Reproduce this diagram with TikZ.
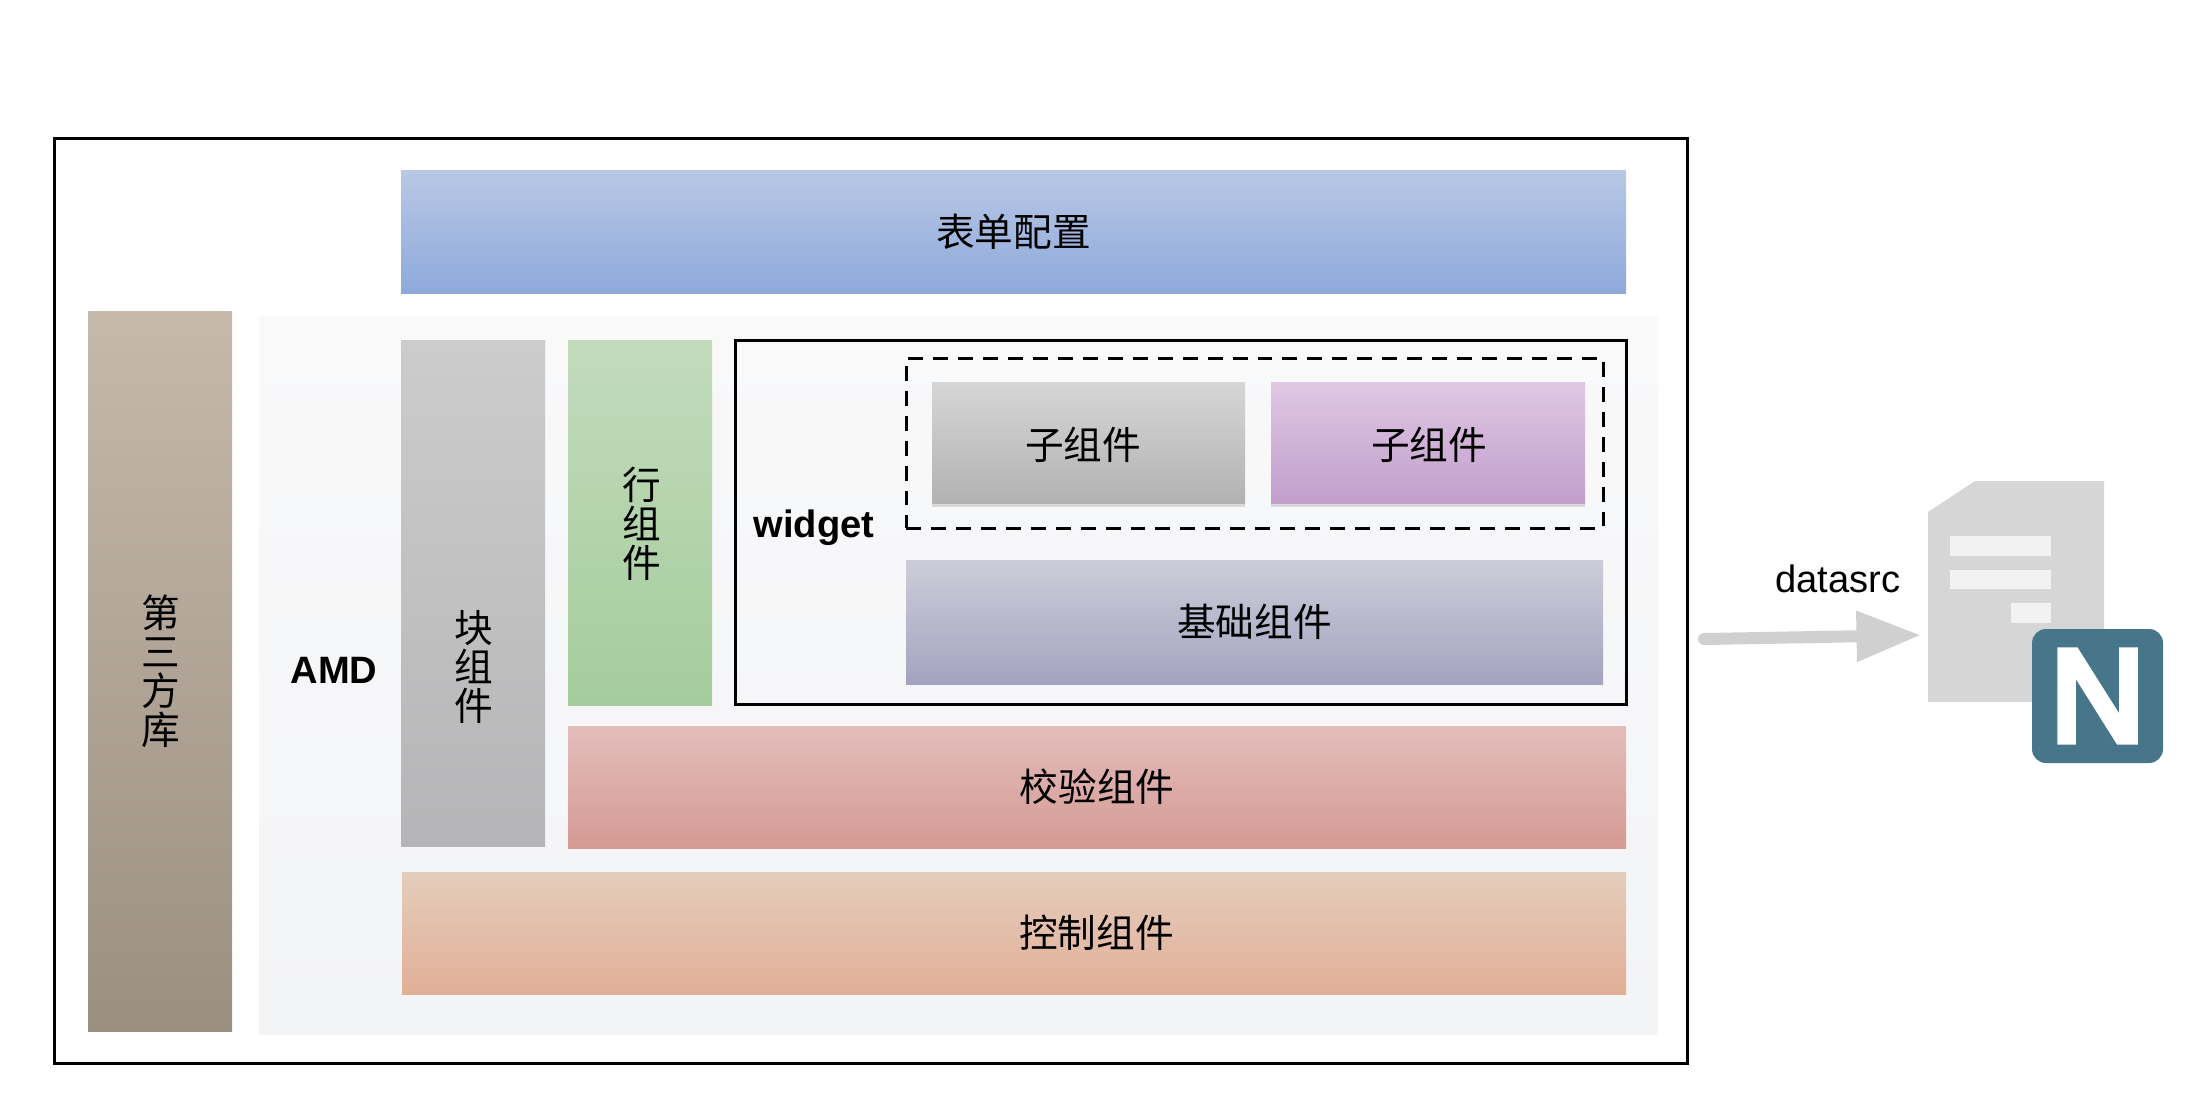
\documentclass[tikz,border=0pt]{standalone}
\usepackage{fontspec}
\setmainfont{Liberation Sans}
\newfontfamily\cjk{Noto Sans CJK SC}
\newfontfamily\logofont[FakeBold=6]{Liberation Sans}
\usetikzlibrary{arrows.meta}
\usetikzlibrary{shadows}
\tikzset{wh/.style 2 args={minimum width=#1*0.02cm, minimum height=#2*0.02cm}}
\tikzstyle{block} = [rectangle, inner sep=0pt, align=center, font=\cjk\fontsize{22}{22.2}\selectfont]
\tikzstyle{tag} = [inner sep=0pt, align=center, font=\cjk\fontsize{22}{22.2}\selectfont]
\tikzstyle{latin} = [inner sep=0pt, font=\fontsize{21.7}{24}\selectfont]
\tikzstyle{framebox} = [draw=black, rectangle, line width=0.06cm, inner sep=0pt]
\tikzstyle{softshadow} = [drop shadow={shadow xshift=0pt, shadow yshift=-2pt, opacity=0.25}]
\tikzstyle{sheetbar} = [rectangle, fill=sheetlight, inner sep=0pt]
\definecolor{sheet}{HTML}{D6D6D6}
\definecolor{sheetlight}{HTML}{F2F2F2}
\definecolor{flowgray}{HTML}{D0D0D0}
\definecolor{nginxblue}{HTML}{47758A}
\begin{document}
\begin{tikzpicture}[x=0.02cm, y=-0.02cm]
    \useasboundingbox (0,0) rectangle (2208,1110);
    \node [framebox, wh={1633}{925}] at (870.5,600.5) (outer) {};
    \node [block, wh={1399}{718}, top color={rgb,255:red,249;green,249;blue,250}, bottom color={rgb,255:red,243;green,244;blue,246}] at (958.5,675) (amdarea) {};
    \node [block, wh={1225}{123}, top color={rgb,255:red,184;green,200;blue,230}, bottom color={rgb,255:red,143;green,169;blue,219}] at (1013.5,231.5) (formconf) {表单配置};
    \node [block, wh={144}{720}, top color={rgb,255:red,198;green,185;blue,172}, bottom color={rgb,255:red,155;green,143;blue,128}] at (160,671) (thirdparty) {};
    \node [tag] at (161,671) (thirdtag) {第\\三\\方\\库};
    \node [block, wh={144}{506}, top color={rgb,255:red,204;green,204;blue,204}, bottom color={rgb,255:red,181;green,181;blue,183}] at (473,593) (blockcomp) {};
    \node [tag] at (474,667) (blocktag) {块\\组\\件};
    \node [block, wh={144}{365}, top color={rgb,255:red,194;green,219;blue,188}, bottom color={rgb,255:red,165;green,204;blue,156}] at (640,522.5) (rowcomp) {};
    \node [tag] at (641.5,523.5) (rowtag) {行\\组\\件};
    \node [framebox, wh={891.5}{364.5}] at (1180.75,522.25) (widgetbox) {};
    \node [framebox, dash pattern=on 8.5pt off 5.7pt, wh={697}{170}] at (1254.5,443) (subgroup) {};
    \node [block, softshadow, wh={313}{121}, top color={rgb,255:red,214;green,214;blue,214}, bottom color={rgb,255:red,178;green,178;blue,178}] at (1088.5,442.5) (subgray) {};
    \node [tag] at (1083,445) (subgraytag) {子组件};
    \node [block, softshadow, wh={314}{121}, top color={rgb,255:red,224;green,200;blue,228}, bottom color={rgb,255:red,193;green,158;blue,203}] at (1428,442.5) (subpurple) {};
    \node [tag] at (1429,445) (subpurpletag) {子组件};
    \node [block, wh={697}{124}, top color={rgb,255:red,205;green,205;blue,217}, bottom color={rgb,255:red,163;green,163;blue,192}] at (1254.5,622) (basecomp) {基础组件};
    \node [block, wh={1058}{122}, top color={rgb,255:red,227;green,189;blue,187}, bottom color={rgb,255:red,213;green,154;blue,148}] at (1097,787) (checkcomp) {校验组件};
    \node [block, wh={1224}{122}, top color={rgb,255:red,228;green,205;blue,188}, bottom color={rgb,255:red,226;green,175;blue,151}] at (1014,933) (ctrlcomp) {};
    \node [tag] at (1096.5,932.5) (ctrltag) {控制组件};
    \node [latin, font=\bfseries\fontsize{21.7}{24}\selectfont] at (334,670) (amdtag) {AMD};
    \node [latin, font=\bfseries\fontsize{21.7}{24}\selectfont] at (814,528) (widgettag) {widget};
    \node [latin] at (1838,579) (datasrctag) {datasrc};
    \fill [sheet] (1928,512) -- (1975,481) -- (2104,481) -- (2104,702) -- (1928,702) -- cycle;
    \node [sheetbar, wh={101}{20}] at (2000.5,546) (bar1) {};
    \node [sheetbar, wh={101}{19}] at (2000.5,579.5) (bar2) {};
    \node [sheetbar, wh={40}{20}] at (2031,613) (bar3) {};
    \node [rectangle, rounded corners=0.28cm, fill=nginxblue, text=white, inner sep=0pt, wh={131}{134}, font=\logofont\fontsize{74}{74}\selectfont] at (2097.5,696) (nginx) {N};
    \coordinate (flowstart) at (1704,639);
    \coordinate (flowend) at (1928,635);
    \draw [-{Triangle[length=1.29cm,width=0.96cm]}, flowgray, line width=0.24cm, line cap=round, shorten >=0.14cm] (flowstart) -- (flowend);
\end{tikzpicture}
\end{document}
